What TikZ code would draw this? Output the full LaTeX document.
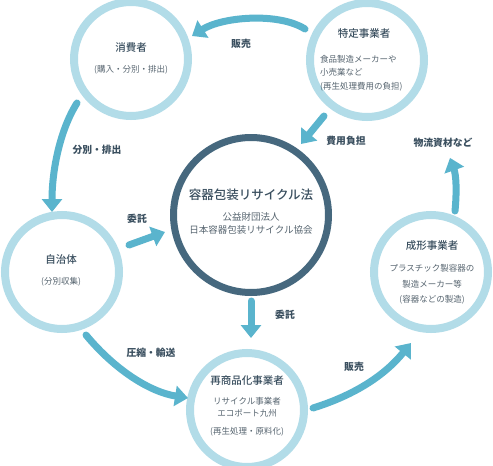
\documentclass[tikz,border=0pt]{standalone}
\usepackage{fontspec}
\newfontfamily\jp{Noto Sans CJK JP}
\newfontfamily\jpm{Noto Sans CJK JP Medium}
\usetikzlibrary{arrows.meta,calc}
\definecolor{ring}{HTML}{B2DCE8}
\definecolor{core}{HTML}{46687E}
\definecolor{flow}{HTML}{5AB4CD}
\definecolor{ink}{HTML}{3A4F5F}
\definecolor{subc}{HTML}{56646F}
\begin{document}
\begin{tikzpicture}[x=1pt,y=-1pt,
  ringc/.style={circle, draw=ring, line width=8pt, minimum size=114pt, inner sep=0pt},
  corec/.style={circle, draw=core, line width=7pt, minimum size=155pt, inner sep=0pt},
  flowarrow/.style={draw=flow, line width=7pt, line cap=round, -{Triangle[length=13pt,width=20pt]}},
  ttl/.style={font=\jpm\fontsize{10.5}{12}\selectfont, text=ink, inner sep=0pt},
  corettl/.style={font=\jpm\fontsize{12.5}{14}\selectfont, text=ink, inner sep=0pt},
  subt/.style={font=\jp\fontsize{8.5}{10}\selectfont, text=subc, inner sep=0pt},
  coresub/.style={font=\jp\fontsize{9.5}{11}\selectfont, text=subc, inner sep=0pt},
  lbl/.style={font=\jp\bfseries\fontsize{9.8}{11}\selectfont, text=ink, inner sep=0pt}]
\useasboundingbox (0,0) rectangle (493,466);
\fill[white] (0,0) rectangle (493,466);
% circles
\node[ringc] (shohi) at (131,59) {};
\node[ringc] (toku) at (367,60) {};
\node[corec] (core) at (251,215) {};
\node[ringc] (jichi) at (62,272) {};
\node[ringc] (seikei) at (431,272) {};
\node[ringc] (sai) at (247,410) {};
% texts
\node[ttl] (t1) at (131,48) {消費者};
\node[subt] (s1) at (131,70) {(購入・分別・排出)};
\node[ttl] (t2) at (364,34) {特定事業者};
\node[subt, anchor=west] (s2a) at (320,59) {食品製造メーカーや};
\node[subt, anchor=west] (s2b) at (320,72) {小売業など};
\node[subt, anchor=west] (s2c) at (320,87) {(再生処理費用の負担)};
\node[corettl] (t3) at (251,195) {容器包装リサイクル法};
\node[coresub] (s3a) at (251,217) {公益財団法人};
\node[coresub] (s3b) at (251,230) {日本容器包装リサイクル協会};
\node[ttl] (t4) at (61,260) {自治体};
\node[subt] (s4) at (61,282) {(分別収集)};
\node[ttl] (t5) at (432,246) {成形事業者};
\node[subt] (s5a) at (432,268) {プラスチック製容器の};
\node[subt] (s5b) at (432,284) {製造メーカー等};
\node[subt] (s5c) at (432,300) {(容器などの製造)};
\node[ttl] (t6) at (247,381) {再商品化事業者};
\node[subt] (s6a) at (247,401) {リサイクル事業者};
\node[subt] (s6b) at (247,413) {エコポート九州};
\node[subt] (s6c) at (247,432) {(再生処理・原料化)};
% labels
\node[lbl] (l1) at (241,44) {販売};
\node[lbl] (l2) at (97,150) {分別・排出};
\node[lbl] (l3) at (346,141) {費用負担};
\node[lbl] (l4) at (137,219) {委託};
\node[lbl] (l5) at (285,315) {委託};
\node[lbl] (l6) at (151,353) {圧縮・輸送};
\node[lbl] (l7) at (354,367) {販売};
\node[lbl] (l8) at (443,143) {物流資材など};
% arrows
\draw[flowarrow] ($(toku)+(-62,-31)$) .. controls (278,12) and (222,17) .. ($(shohi)+(61,-23)$);
\draw[flowarrow] ($(shohi)+(-54,44)$) .. controls (60,130) and (52,170) .. ($(jichi)+(-10,-60)$);
\draw[flowarrow] ($(toku)+(-43,56)$) -- ($(core)+(50,-71)$);
\draw[flowarrow] ($(jichi)+(67,-27)$) -- ($(core)+(-86,17)$);
\draw[flowarrow] ($(core)+(0,86)$) -- ($(sai)+(4,-72)$);
\draw[flowarrow] ($(jichi)+(24,63)$) .. controls (115,370) and (150,392) .. ($(sai)+(-59,-12)$);
\draw[flowarrow] ($(sai)+(66,-2)$) .. controls (355,395) and (385,375) .. ($(seikei)+(-20,71)$);
\draw[flowarrow] ($(seikei)+(24,-61)$) .. controls (457,190) and (456,175) .. ($(l8.south)+(7,10)$);
\end{tikzpicture}
\end{document}
